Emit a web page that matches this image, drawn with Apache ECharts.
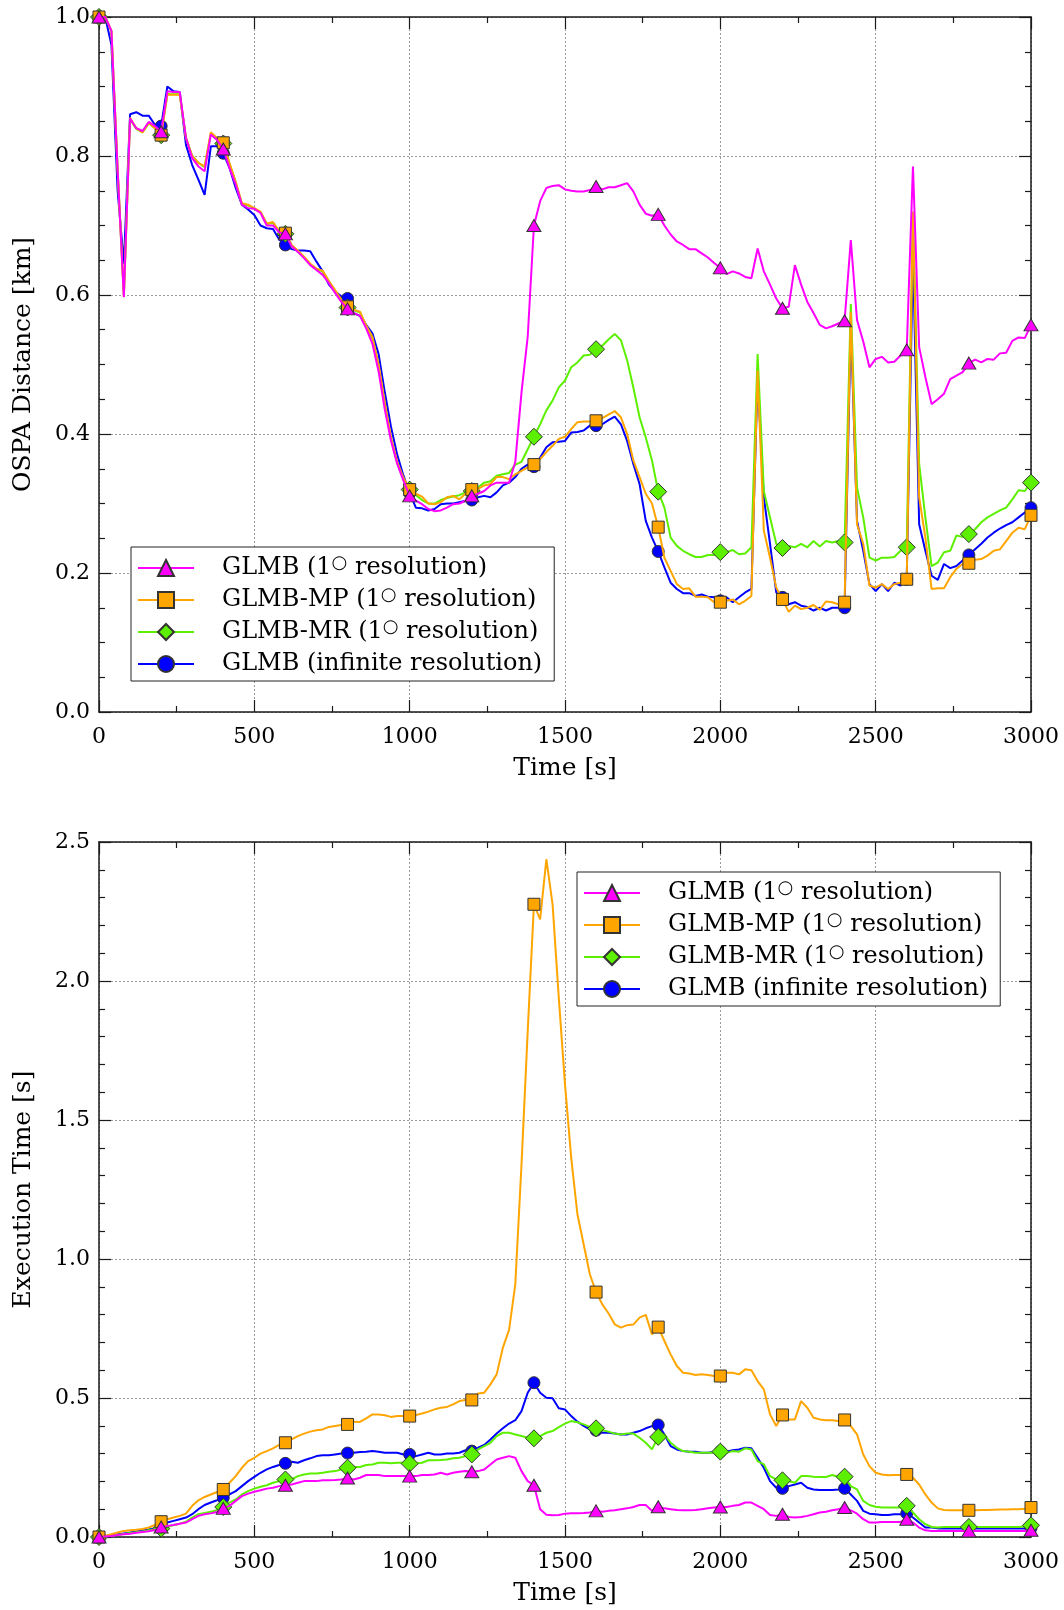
<!DOCTYPE html>
<html>
<head>
<meta charset="utf-8">
<script src="https://cdn.jsdelivr.net/npm/echarts@6/dist/echarts.min.js"></script>
<style>
html,body{margin:0;padding:0;background:#fff;}
#chart{width:1064px;height:1610px;}
</style>
</head>
<body>
<div id="chart"></div>
<script>
// ---------- DATA ----------
const times = [0,20,40,60,80,100,120,140,160,180,200,220,240,260,280,300,320,340,360,380,400,420,440,460,480,500,520,540,560,580,600,620,640,660,680,700,720,740,760,780,800,820,840,860,880,900,920,940,960,980,1000,1020,1040,1060,1080,1100,1120,1140,1160,1180,1200,1220,1240,1260,1280,1300,1320,1340,1360,1380,1400,1420,1440,1460,1480,1500,1520,1540,1560,1580,1600,1620,1640,1660,1680,1700,1720,1740,1760,1780,1800,1820,1840,1860,1880,1900,1920,1940,1960,1980,2000,2020,2040,2060,2080,2100,2120,2140,2160,2180,2200,2220,2240,2260,2280,2300,2320,2340,2360,2380,2400,2420,2440,2460,2480,2500,2520,2540,2560,2580,2600,2620,2640,2660,2680,2700,2720,2740,2760,2780,2800,2820,2840,2860,2880,2900,2920,2940,2960,2980,3000];

const seriesNames = ['GLMB (1○ resolution)', 'GLMB-MP (1○ resolution)', 'GLMB-MR (1○ resolution)', 'GLMB (infinite resolution)'];

const xTickLabels = ['0','500','1000','1500','2000','2500','3000'];
const ospaTickLabels = ['0.0','0.2','0.4','0.6','0.8','1.0'];
const execTickLabels = ['0.0','0.5','1.0','1.5','2.0','2.5'];

// OSPA distance [km]
const ospaGlmb = [1.0,1.0,0.98,0.78,0.597,0.854,0.84,0.836,0.849,0.843,0.835,0.893,0.892,0.892,0.826,0.797,0.785,0.778,0.831,0.823,0.81,0.783,0.759,0.73,0.725,0.724,0.718,0.70,0.70,0.69,0.688,0.67,0.662,0.653,0.643,0.636,0.629,0.617,0.603,0.59,0.58,0.574,0.57,0.552,0.53,0.49,0.435,0.39,0.357,0.333,0.311,0.304,0.299,0.292,0.289,0.29,0.294,0.299,0.30,0.304,0.311,0.314,0.318,0.326,0.33,0.33,0.33,0.36,0.46,0.54,0.70,0.735,0.754,0.757,0.758,0.752,0.75,0.749,0.749,0.751,0.756,0.752,0.755,0.755,0.758,0.761,0.749,0.73,0.717,0.714,0.716,0.70,0.687,0.677,0.672,0.666,0.666,0.66,0.654,0.646,0.639,0.63,0.634,0.631,0.626,0.624,0.667,0.634,0.615,0.595,0.581,0.583,0.643,0.615,0.59,0.574,0.557,0.552,0.555,0.559,0.563,0.679,0.564,0.533,0.496,0.508,0.511,0.503,0.504,0.513,0.521,0.785,0.525,0.482,0.443,0.45,0.458,0.479,0.484,0.489,0.502,0.507,0.503,0.508,0.507,0.516,0.517,0.534,0.539,0.538,0.557];
const ospaMp = [1.0,1.0,0.98,0.78,0.597,0.855,0.84,0.834,0.848,0.84,0.83,0.888,0.888,0.888,0.826,0.8,0.79,0.785,0.834,0.826,0.819,0.79,0.763,0.732,0.73,0.725,0.72,0.703,0.705,0.692,0.689,0.672,0.664,0.655,0.645,0.638,0.635,0.62,0.607,0.593,0.583,0.579,0.576,0.556,0.54,0.5,0.445,0.395,0.36,0.337,0.32,0.314,0.31,0.30,0.299,0.302,0.309,0.311,0.306,0.314,0.32,0.321,0.326,0.328,0.338,0.338,0.335,0.342,0.347,0.352,0.356,0.364,0.374,0.383,0.393,0.396,0.407,0.417,0.418,0.418,0.419,0.423,0.428,0.433,0.424,0.40,0.362,0.338,0.314,0.30,0.266,0.222,0.203,0.184,0.177,0.178,0.166,0.166,0.165,0.158,0.158,0.16,0.162,0.155,0.16,0.167,0.491,0.261,0.222,0.179,0.162,0.144,0.153,0.148,0.15,0.154,0.147,0.159,0.158,0.155,0.158,0.576,0.27,0.242,0.182,0.179,0.184,0.177,0.184,0.186,0.191,0.72,0.309,0.251,0.177,0.178,0.178,0.194,0.206,0.213,0.214,0.219,0.22,0.225,0.232,0.234,0.246,0.258,0.265,0.263,0.283];
const ospaMr = [1.0,1.0,0.98,0.78,0.6,0.853,0.839,0.834,0.847,0.84,0.83,0.889,0.889,0.889,0.826,0.8,0.79,0.784,0.833,0.825,0.818,0.789,0.762,0.731,0.729,0.724,0.719,0.702,0.704,0.691,0.688,0.671,0.663,0.654,0.644,0.637,0.634,0.619,0.606,0.592,0.582,0.578,0.575,0.555,0.538,0.498,0.443,0.393,0.358,0.335,0.32,0.312,0.305,0.30,0.30,0.305,0.308,0.31,0.312,0.316,0.318,0.323,0.33,0.332,0.34,0.342,0.344,0.356,0.36,0.378,0.396,0.414,0.434,0.448,0.467,0.477,0.496,0.503,0.513,0.514,0.522,0.527,0.536,0.544,0.535,0.506,0.467,0.424,0.395,0.362,0.317,0.294,0.251,0.239,0.232,0.227,0.223,0.223,0.226,0.226,0.23,0.23,0.233,0.227,0.228,0.237,0.515,0.318,0.28,0.242,0.236,0.239,0.237,0.242,0.237,0.246,0.238,0.246,0.244,0.246,0.244,0.587,0.323,0.28,0.222,0.218,0.222,0.222,0.223,0.232,0.237,0.718,0.357,0.28,0.21,0.215,0.23,0.232,0.254,0.252,0.256,0.263,0.273,0.28,0.285,0.29,0.294,0.306,0.319,0.318,0.33];
const ospaInf = [1.0,1.0,0.96,0.75,0.645,0.86,0.863,0.858,0.858,0.845,0.843,0.9,0.893,0.892,0.816,0.787,0.766,0.744,0.814,0.814,0.804,0.783,0.754,0.73,0.723,0.715,0.70,0.696,0.695,0.68,0.672,0.666,0.664,0.664,0.663,0.648,0.634,0.615,0.605,0.598,0.595,0.574,0.57,0.557,0.545,0.515,0.46,0.41,0.37,0.34,0.315,0.294,0.293,0.29,0.292,0.299,0.30,0.30,0.302,0.304,0.305,0.309,0.311,0.309,0.316,0.326,0.33,0.338,0.35,0.356,0.353,0.366,0.381,0.388,0.389,0.39,0.402,0.403,0.405,0.412,0.412,0.414,0.42,0.425,0.414,0.39,0.357,0.328,0.275,0.251,0.231,0.208,0.186,0.177,0.171,0.171,0.167,0.169,0.166,0.165,0.16,0.165,0.158,0.165,0.172,0.177,0.48,0.309,0.242,0.172,0.165,0.155,0.158,0.153,0.151,0.146,0.15,0.146,0.15,0.15,0.15,0.56,0.275,0.232,0.184,0.174,0.184,0.174,0.186,0.182,0.191,0.66,0.27,0.232,0.196,0.19,0.213,0.207,0.21,0.218,0.226,0.234,0.242,0.251,0.258,0.264,0.269,0.273,0.28,0.287,0.294];

// Execution time [s]
const execGlmb = [0,0.002,0.004,0.007,0.01,0.012,0.015,0.018,0.021,0.025,0.036,0.04,0.043,0.048,0.052,0.064,0.076,0.082,0.085,0.09,0.103,0.112,0.13,0.147,0.156,0.163,0.168,0.174,0.177,0.183,0.186,0.189,0.195,0.201,0.201,0.201,0.204,0.204,0.205,0.207,0.212,0.207,0.213,0.223,0.223,0.223,0.219,0.219,0.219,0.219,0.219,0.219,0.223,0.223,0.225,0.231,0.225,0.231,0.235,0.237,0.235,0.237,0.243,0.261,0.279,0.285,0.291,0.285,0.237,0.201,0.186,0.1,0.08,0.078,0.079,0.084,0.085,0.085,0.086,0.088,0.094,0.091,0.094,0.096,0.1,0.103,0.108,0.115,0.115,0.094,0.109,0.103,0.1,0.097,0.096,0.096,0.097,0.1,0.103,0.106,0.108,0.108,0.112,0.115,0.124,0.124,0.112,0.1,0.079,0.076,0.082,0.072,0.07,0.072,0.076,0.082,0.088,0.091,0.096,0.1,0.106,0.096,0.084,0.064,0.052,0.052,0.054,0.054,0.054,0.054,0.064,0.052,0.034,0.024,0.022,0.022,0.022,0.022,0.022,0.022,0.022,0.022,0.022,0.022,0.022,0.022,0.022,0.022,0.022,0.022,0.024];
const execMp = [0,0.004,0.01,0.016,0.022,0.024,0.026,0.029,0.034,0.043,0.055,0.064,0.07,0.076,0.084,0.112,0.132,0.144,0.153,0.162,0.171,0.195,0.219,0.249,0.273,0.285,0.30,0.309,0.319,0.331,0.339,0.351,0.363,0.372,0.379,0.384,0.387,0.396,0.399,0.403,0.405,0.415,0.414,0.427,0.441,0.441,0.438,0.432,0.435,0.435,0.435,0.439,0.444,0.451,0.459,0.465,0.468,0.477,0.489,0.493,0.493,0.516,0.519,0.549,0.585,0.681,0.745,0.909,1.34,1.82,2.276,2.222,2.438,2.276,1.94,1.628,1.364,1.161,1.053,0.945,0.881,0.837,0.805,0.765,0.753,0.762,0.764,0.789,0.799,0.729,0.755,0.705,0.657,0.615,0.591,0.588,0.583,0.585,0.583,0.579,0.579,0.591,0.591,0.585,0.603,0.60,0.561,0.531,0.441,0.399,0.439,0.423,0.423,0.489,0.465,0.429,0.423,0.42,0.42,0.417,0.421,0.399,0.369,0.297,0.255,0.231,0.225,0.222,0.223,0.223,0.225,0.213,0.189,0.153,0.124,0.103,0.097,0.096,0.096,0.096,0.096,0.096,0.097,0.097,0.098,0.099,0.099,0.1,0.1,0.102,0.106];
const execMr = [0,0.002,0.005,0.008,0.011,0.014,0.017,0.02,0.024,0.028,0.03,0.036,0.043,0.048,0.055,0.07,0.082,0.086,0.091,0.096,0.108,0.124,0.135,0.153,0.165,0.174,0.181,0.186,0.195,0.201,0.207,0.207,0.219,0.225,0.228,0.228,0.231,0.235,0.237,0.243,0.249,0.252,0.252,0.259,0.261,0.267,0.267,0.265,0.267,0.267,0.264,0.264,0.267,0.276,0.276,0.277,0.279,0.283,0.285,0.291,0.297,0.315,0.327,0.339,0.363,0.375,0.375,0.369,0.363,0.357,0.355,0.363,0.375,0.381,0.395,0.408,0.417,0.413,0.405,0.396,0.391,0.384,0.379,0.372,0.369,0.372,0.372,0.357,0.339,0.315,0.36,0.369,0.339,0.321,0.309,0.307,0.303,0.303,0.303,0.303,0.307,0.303,0.309,0.307,0.319,0.315,0.273,0.261,0.219,0.207,0.204,0.201,0.195,0.219,0.219,0.217,0.216,0.216,0.223,0.216,0.217,0.183,0.171,0.13,0.115,0.109,0.106,0.106,0.106,0.106,0.112,0.088,0.064,0.046,0.036,0.034,0.036,0.036,0.036,0.036,0.036,0.036,0.036,0.036,0.036,0.036,0.036,0.036,0.036,0.038,0.042];
const execInf = [0,0.003,0.006,0.01,0.013,0.016,0.02,0.023,0.027,0.032,0.04,0.052,0.058,0.064,0.07,0.082,0.1,0.115,0.124,0.132,0.141,0.153,0.165,0.183,0.201,0.216,0.231,0.243,0.252,0.259,0.265,0.271,0.267,0.276,0.283,0.291,0.294,0.294,0.297,0.30,0.302,0.303,0.306,0.307,0.309,0.307,0.303,0.303,0.303,0.297,0.297,0.291,0.297,0.303,0.297,0.297,0.30,0.30,0.303,0.312,0.309,0.321,0.331,0.351,0.372,0.391,0.408,0.42,0.453,0.519,0.555,0.519,0.501,0.499,0.463,0.459,0.435,0.415,0.40,0.387,0.384,0.375,0.375,0.372,0.369,0.369,0.375,0.381,0.391,0.399,0.403,0.369,0.327,0.315,0.309,0.307,0.307,0.303,0.303,0.306,0.307,0.307,0.312,0.315,0.321,0.319,0.285,0.249,0.201,0.177,0.175,0.183,0.189,0.195,0.177,0.171,0.169,0.169,0.169,0.171,0.175,0.153,0.13,0.094,0.084,0.082,0.079,0.079,0.082,0.082,0.085,0.07,0.052,0.034,0.034,0.031,0.031,0.031,0.031,0.031,0.031,0.031,0.031,0.031,0.031,0.031,0.031,0.031,0.031,0.031,0.032];

// ---------- STYLE ----------
const FONT = 'DejaVu Serif';
const colors = ['#FF00FF', '#FFA500', '#5CF000', '#0000FF'];
const symbols = ['triangle', 'rect', 'diamond', 'circle'];
const symSizes = [[14, 12], 12, 17, 12];
const zOrder = [5, 4, 3, 2];

function pairs(vals) { return times.map((t, i) => [t, vals[i]]); }

function makeSeries(vals, idx, gridIdx) {
  return {
    name: seriesNames[idx],
    type: 'line',
    xAxisIndex: gridIdx * 2,
    yAxisIndex: gridIdx * 2,
    data: pairs(vals),
    z: zOrder[idx],
    symbol: symbols[idx],
    showAllSymbol: true,
    symbolSize: function (v) { return v[0] % 200 === 0 ? symSizes[idx] : 0; },
    lineStyle: { color: colors[idx], width: 2 },
    itemStyle: { color: colors[idx], borderColor: '#333', borderWidth: 1 },
    emphasis: { disabled: true },
    animation: false
  };
}

const axisLineStyle = { color: '#1a1a1a', width: 1.5 };
const splitLineStyle = { color: '#9a9a9a', width: 1, type: [2, 2] };
const tickStyle = { color: '#1a1a1a', width: 1.2 };

function xAxes(gridIdx) {
  return [{
    type: 'value', gridIndex: gridIdx, min: 0, max: 3000, interval: 500, position: 'bottom',
    axisLine: { show: true, onZero: false, lineStyle: axisLineStyle },
    axisTick: { show: true, inside: true, length: 12, lineStyle: tickStyle },
    minorTick: { show: true, splitNumber: 2, length: 6, lineStyle: tickStyle },
    splitLine: { show: true, lineStyle: splitLineStyle },
    axisLabel: { fontFamily: FONT, fontSize: 22, color: '#000', margin: 14,
      formatter: function (v) { return xTickLabels[v / 500]; } },
    name: 'Time [s]', nameLocation: 'middle', nameGap: 44,
    nameTextStyle: { fontFamily: FONT, fontSize: 25, color: '#000' }
  }, {
    type: 'value', gridIndex: gridIdx, min: 0, max: 3000, interval: 500, position: 'top',
    axisLine: { show: true, onZero: false, lineStyle: axisLineStyle },
    axisTick: { show: true, inside: true, length: 12, lineStyle: tickStyle },
    minorTick: { show: true, splitNumber: 2, length: 6, lineStyle: tickStyle },
    splitLine: { show: false },
    axisLabel: { show: false }
  }];
}

function yAxes(gridIdx, max, interval, minorSplit, labels, name, gap) {
  return [{
    type: 'value', gridIndex: gridIdx, min: 0, max: max, interval: interval, position: 'left',
    axisLine: { show: true, onZero: false, lineStyle: axisLineStyle },
    axisTick: { show: true, inside: true, length: 12, lineStyle: tickStyle },
    minorTick: { show: true, splitNumber: minorSplit, length: 6, lineStyle: tickStyle },
    splitLine: { show: true, lineStyle: splitLineStyle },
    axisLabel: { fontFamily: FONT, fontSize: 22, color: '#000', margin: 9,
      formatter: function (v) { return labels[Math.round(v / interval)]; } },
    name: name, nameLocation: 'middle', nameGap: gap,
    nameTextStyle: { fontFamily: FONT, fontSize: 25, color: '#000' }
  }, {
    type: 'value', gridIndex: gridIdx, min: 0, max: max, interval: interval, position: 'right',
    axisLine: { show: true, onZero: false, lineStyle: axisLineStyle },
    axisTick: { show: true, inside: true, length: 12, lineStyle: tickStyle },
    minorTick: { show: true, splitNumber: minorSplit, length: 6, lineStyle: tickStyle },
    splitLine: { show: false },
    axisLabel: { show: false }
  }];
}

function legendCfg(left, top) {
  return {
    orient: 'vertical', left: left, top: top,
    backgroundColor: '#fff',
    borderColor: '#222', borderWidth: 1, borderRadius: 0,
    padding: [7, 12, 3, 6],
    itemWidth: 56, itemHeight: 20, itemGap: 4,
    selectedMode: false,
    data: seriesNames,
    formatter: function (n) { return n.replace('○', '{d|○}'); },
    textStyle: {
      fontFamily: FONT, fontSize: 24, color: '#000', lineHeight: 28,
      padding: [0, 0, 0, 23],
      rich: { d: { fontFamily: 'DejaVu Sans', fontSize: 18, lineHeight: 10, verticalAlign: 'top', color: '#000' } }
    }
  };
}

const option = {
  animation: false,
  backgroundColor: '#fff',
  grid: [
    { left: 99, right: 33, top: 17, height: 695 },
    { left: 99, right: 33, top: 842, height: 695 }
  ],
  xAxis: [...xAxes(0), ...xAxes(1)],
  yAxis: [
    ...yAxes(0, 1.0, 0.2, 4, ospaTickLabels, 'OSPA Distance [km]', 63),
    ...yAxes(1, 2.5, 0.5, 5, execTickLabels, 'Execution Time [s]', 63)
  ],
  legend: [legendCfg(131, 547), legendCfg(577, 872)],
  series: [
    makeSeries(ospaGlmb, 0, 0), makeSeries(ospaMp, 1, 0), makeSeries(ospaMr, 2, 0), makeSeries(ospaInf, 3, 0),
    makeSeries(execGlmb, 0, 1), makeSeries(execMp, 1, 1), makeSeries(execMr, 2, 1), makeSeries(execInf, 3, 1)
  ]
};

const chart = echarts.init(document.getElementById('chart'), null, { renderer: 'canvas' });
chart.setOption(option);
</script>
</body>
</html>
